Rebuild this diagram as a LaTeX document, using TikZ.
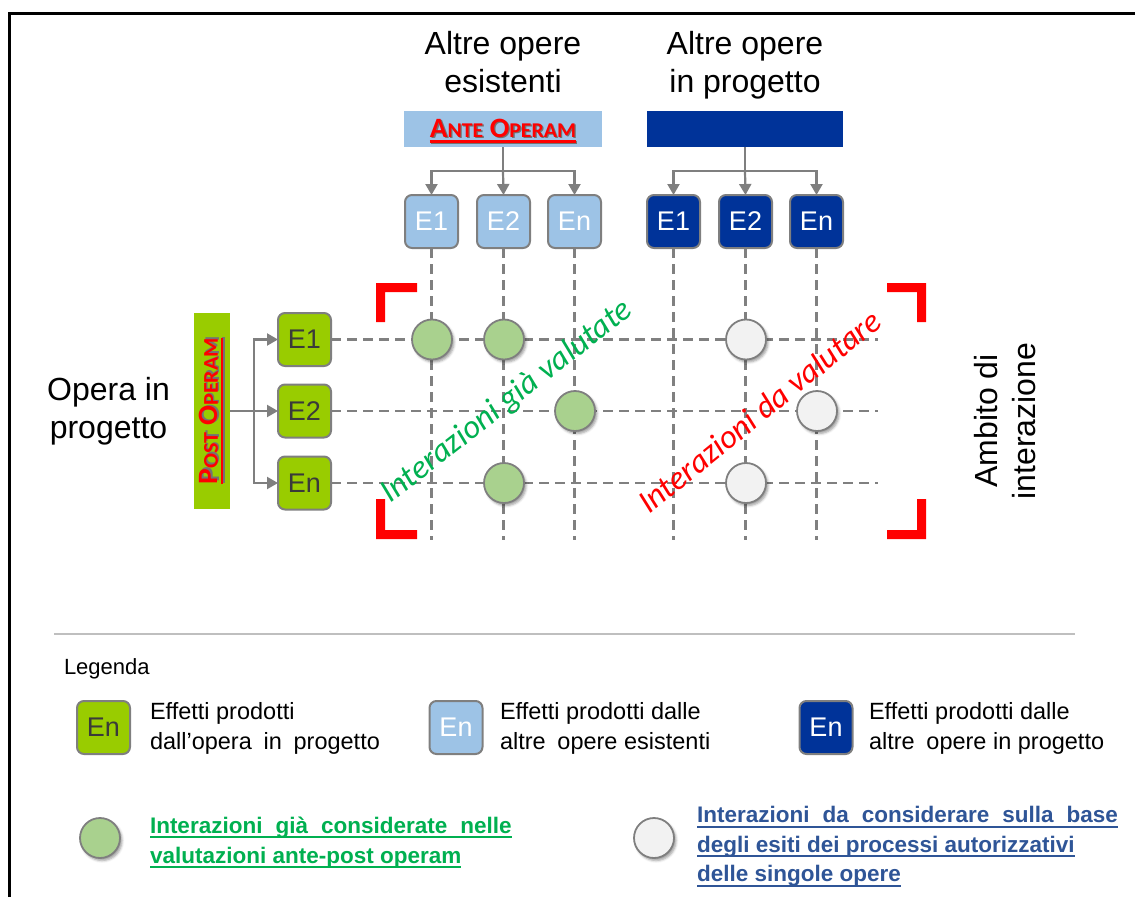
\documentclass[tikz,border=0pt]{standalone}
\usepackage{fontspec}
\setmainfont{Liberation Sans}
\newfontfamily\calfont{Carlito}
\usepackage{graphicx}
\usetikzlibrary{arrows.meta,shadows.blur}

\definecolor{boxgreen}{HTML}{99CC00}
\definecolor{boxtext}{HTML}{3A3A3A}
\definecolor{existblue}{HTML}{9DC3E6}
\definecolor{newblue}{HTML}{003399}
\definecolor{edgegray}{HTML}{7F7F7F}
\definecolor{meshgray}{HTML}{808080}
\definecolor{dotgreen}{HTML}{A9D18E}
\definecolor{dotwhite}{HTML}{F2F2F2}
\definecolor{labelred}{HTML}{FF0000}
\definecolor{donegreen}{HTML}{00B050}
\definecolor{todoblue}{HTML}{2F5597}
\definecolor{sepgray}{HTML}{BFBFBF}

% underline with chosen offset and thickness
\newlength\ulwidth
\newcommand\uln[3]{\settowidth\ulwidth{#3}\rlap{\rule[#1]{\ulwidth}{#2}}#3}
\newcommand\legul[1]{\uln{-5pt}{2pt}{#1}}
\newcommand\widesp{\spaceskip=13pt plus 2pt\relax}
% faked small capitals
\newcommand\capsm[2]{#1{\fontsize{21pt}{21pt}\selectfont #2}}
% red phase label with a soft dark shadow
\newcommand\phaselabel[1]{\resizebox{146pt}{\height}{\calfont\bfseries\fontsize{28pt}{28pt}\selectfont
  \rlap{\kern1.3pt\raisebox{-1.3pt}{\color{black!55}\uln{-5.5pt}{2.4pt}{#1}}}{\color{labelred}\uln{-5.5pt}{2.4pt}{#1}}}}

\tikzset{
  every node/.style={inner sep=0pt, outer sep=0pt},
  effbox/.style={draw=edgegray, line width=2pt, rounded corners=7pt,
    minimum width=53pt, minimum height=53pt, font=\fontsize{27pt}{27pt}\selectfont},
  effgreen/.style={effbox, fill=boxgreen, text=boxtext},
  effexist/.style={effbox, fill=existblue, text=white},
  effnew/.style={effbox, fill=newblue, text=white},
  feedline/.style={draw=edgegray, line width=2.2pt},
  feed/.style={feedline, -{Triangle[length=11pt,width=12pt]}},
  meshline/.style={draw=meshgray, line width=2.8pt, dash pattern=on 10pt off 6pt},
  dotbase/.style={circle, draw=edgegray, line width=1.8pt, minimum size=40pt,
    blur shadow={shadow xshift=2pt, shadow yshift=-2.5pt, shadow blur radius=2.5pt, shadow opacity=40}},
  dotdone/.style={dotbase, fill=dotgreen},
  dotopen/.style={dotbase, fill=dotwhite},
  bigtext/.style={align=center, font=\fontsize{32pt}{38pt}\selectfont},
  legtext/.style={align=left, anchor=north west, font=\fontsize{23.5pt}{30pt}\selectfont},
  legnote/.style={align=left, anchor=north west, font=\bfseries\fontsize{22.5pt}{30pt}\selectfont},
  diaglabel/.style={anchor=base, font=\calfont\itshape\fontsize{33pt}{33pt}\selectfont},
}

\begin{document}
\begin{tikzpicture}[x=1pt, y=-1pt]
\useasboundingbox (0,0) rectangle (1135,897);

% frame
\draw[line width=2.5pt] (9.5,897) -- (9.5,13.5) -- (1135,13.5);

% column headings
\node[bigtext] (existTitle) at (503,62.3) {Altre opere\\esistenti};
\node[bigtext] (newTitle) at (745,65.7) {Altre opere\\in progetto};
\node[bigtext] (operaTitle) at (108.5,411) {Opera in\\progetto};
\node[bigtext, rotate=90] (ambito) at (1005,421) {Ambito di\\interazione};

% phase bars
\node[fill=existblue, minimum width=198pt, minimum height=36pt, text height=16pt, text depth=0pt]
  (ante) at (503,129) {\phaselabel{\capsm{A}{NTE} \capsm{O}{PERAM}}};
\node[fill=newblue, minimum width=196pt, minimum height=36pt] (nuove) at (745,129) {};
\node[fill=boxgreen, minimum width=36pt, minimum height=196pt]
  (post) at (212,411) {\rotatebox{90}{\phaselabel{\capsm{P}{OST} \capsm{O}{PERAM}}}};

% effect boxes
\node[effexist] (a1) at (431.5,221.5) {E1};
\node[effexist] (a2) at (503.5,221.5) {E2};
\node[effexist] (an) at (574.5,221.5) {En};
\node[effnew] (n1) at (673.5,221.5) {E1};
\node[effnew] (n2) at (745.5,221.5) {E2};
\node[effnew] (nn) at (816.5,221.5) {En};
\node[effgreen] (p1) at (304.5,339.5) {E1};
\node[effgreen] (p2) at (304.5,411) {E2};
\node[effgreen] (pn) at (304.5,483) {En};

% feeders from the bars
\coordinate (anteJ) at (503,171);
\coordinate (nuoveJ) at (745,171);
\coordinate (postJ) at (254,411);
\draw[feedline] (ante.south) -- (anteJ);
\draw[feed] (anteJ) -| (a1.north);
\draw[feed] (anteJ) -- (a2.north);
\draw[feed] (anteJ) -| (an.north);
\draw[feedline] (nuove.south) -- (nuoveJ);
\draw[feed] (nuoveJ) -| (n1.north);
\draw[feed] (nuoveJ) -- (n2.north);
\draw[feed] (nuoveJ) -| (nn.north);
\draw[feedline] (post.east) -- (postJ);
\draw[feed] (postJ) |- (p1.west);
\draw[feed] (postJ) -- (p2.west);
\draw[feed] (postJ) |- (pn.west);

% interaction mesh
\foreach \b/\x in {a1/431.5, a2/503.5, an/574.5, n1/673.5, n2/745.5, nn/816.5}{
  \coordinate (\b end) at (\x,540);
  \draw[meshline] (\b.south) -- (\b end);
}
\foreach \b/\y in {p1/339.5, p2/411, pn/483}{
  \coordinate (\b end) at (878,\y);
  \draw[meshline] (\b.east) -- (\b end);
}

% scope brackets
\fill[labelred] (376,283) -- (417,283) -- (417,292) -- (385,292) -- (385,322) -- (376,322) -- cycle;
\fill[labelred] (926,283) -- (887,283) -- (887,292) -- (917,292) -- (917,322) -- (926,322) -- cycle;
\fill[labelred] (376,539) -- (417,539) -- (417,530) -- (385,530) -- (385,499) -- (376,499) -- cycle;
\fill[labelred] (926,539) -- (887,539) -- (887,530) -- (917,530) -- (917,499) -- (926,499) -- cycle;

% interactions
\node[dotdone] (d11) at (432,339.5) {};
\node[dotdone] (d12) at (504,339.5) {};
\node[dotdone] (d23) at (575,411) {};
\node[dotdone] (dn2) at (504,483) {};
\node[dotopen] (o12) at (746,339.5) {};
\node[dotopen] (o23) at (817,411) {};
\node[dotopen] (on2) at (746,483) {};

\node[diaglabel, rotate=38, text=donegreen] (doneLabel) at (512.5,408.5) {Interazioni già valutate};
\node[diaglabel, rotate=39, text=labelred] (todoLabel) at (766.5,420) {Interazioni da valutare};

% legend
\draw[sepgray, line width=1.5pt] (54,634) -- (1075,634);
\node[anchor=base west, font=\fontsize{22pt}{22pt}\selectfont] (legTitle) at (64,674) {Legenda};

\node[effgreen] (lgGreen) at (103.5,727.5) {En};
\node[legtext] (lgGreenText) at (150,702) {Effetti prodotti\\dall'opera\hspace{0.5em}in\hspace{0.5em}progetto};
\node[effexist] (lgExist) at (456,727.5) {En};
\node[legtext] (lgExistText) at (500,702) {Effetti prodotti dalle\\altre\hspace{0.5em}opere esistenti};
\node[effnew] (lgNew) at (826,727.5) {En};
\node[legtext] (lgNewText) at (869,702) {Effetti prodotti dalle\\altre\hspace{0.5em}opere in progetto};

\node[dotdone] (lgDone) at (100,838) {};
\node[legnote, text=donegreen] (lgDoneText) at (150,816.6)
  {\widesp\legul{Interazioni già considerate nelle}\\\legul{valutazioni ante-post operam}};
\node[dotopen] (lgOpen) at (654,838) {};
\node[legnote, text=todoblue, font=\bfseries\fontsize{22.5pt}{29.5pt}\selectfont] (lgOpenText) at (697,806.6)
  {\widesp\legul{Interazioni da considerare sulla base}\\\legul{degli esiti dei processi autorizzativi}\\\legul{delle singole opere}};
\end{tikzpicture}
\end{document}
